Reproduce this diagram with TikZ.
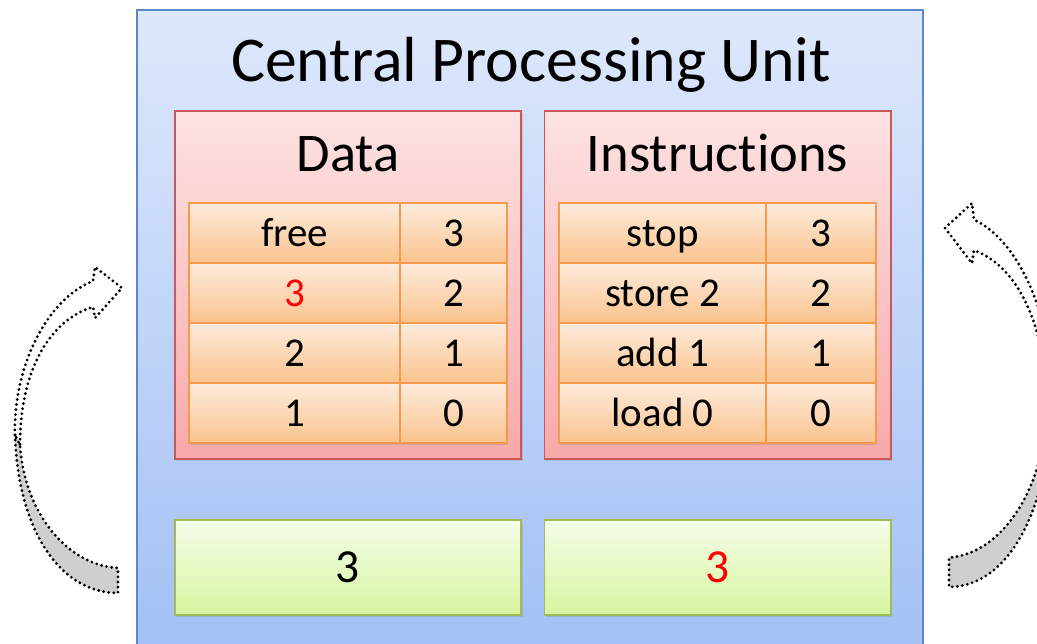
\documentclass[tikz,border=0pt]{standalone}
\usepackage{fontspec}
\setmainfont{Carlito}[Ligatures={NoCommon}]
\usetikzlibrary{shadows}
\definecolor{cpuedge}{HTML}{5A87C8}
\definecolor{cputop}{HTML}{DEE8FC}
\definecolor{cpubot}{HTML}{A2BFF4}
\definecolor{memedge}{HTML}{C9585A}
\definecolor{memtop}{HTML}{FDE2E2}
\definecolor{membot}{HTML}{F8A9A9}
\definecolor{celledge}{HTML}{F39A4C}
\definecolor{celltop}{HTML}{FDEBDC}
\definecolor{cellbot}{HTML}{FBC38E}
\definecolor{regedge}{HTML}{9DBD5A}
\definecolor{regtop}{HTML}{F5FDE9}
\definecolor{regbot}{HTML}{D7F5A0}
\definecolor{arrowgray}{HTML}{CFCFCF}
\definecolor{hot}{HTML}{FF0000}
\begin{document}
\begin{tikzpicture}[x=0.02cm,y=-0.02cm,
  cpubox/.style={draw=cpuedge, line width=0.9pt, top color=cputop, bottom color=cpubot,
    minimum width=15.72cm, minimum height=13cm, inner sep=0pt},
  membox/.style={draw=memedge, line width=0.9pt, top color=memtop, bottom color=membot,
    minimum width=6.93cm, minimum height=6.96cm, inner sep=0pt,
    drop shadow={opacity=0.25, shadow xshift=0.8pt, shadow yshift=-1.2pt}},
  cell/.style={draw=celledge, line width=0.9pt, top color=celltop, bottom color=cellbot,
    minimum height=1.2cm, inner sep=0pt, font=\fontsize{23.3}{28}\selectfont,
    text height=15.6pt, text depth=0.5pt,
    drop shadow={opacity=0.25, shadow xshift=0.6pt, shadow yshift=-1.2pt}},
  regbox/.style={draw=regedge, line width=0.9pt, top color=regtop, bottom color=regbot,
    minimum width=6.93cm, minimum height=1.9cm, inner sep=0pt, font=\fontsize{27}{32}\selectfont,
    drop shadow={opacity=0.25, shadow xshift=0.8pt, shadow yshift=-1.2pt}},
  heading/.style={font=\fontsize{31}{36}\selectfont, inner sep=0pt, anchor=base},
  arrowline/.style={line width=1.8pt, dash pattern=on 0pt off 2.9pt, line cap=round}
]
\useasboundingbox (0,0) rectangle (1037,644);
\clip (0,0) rectangle (1037,644);

% CPU
\node[cpubox] (cpu) at (530,335) {};
\node[font=\fontsize{36.3}{42}\selectfont, inner sep=0pt, anchor=base] (title) at (531,82) {Central Processing Unit};

% memory boxes
\node[membox] (data) at (348,285) {};
\node[membox] (instr) at (717.5,285) {};
\node[heading] (datalbl) at (348,172) {Data};
\node[heading] (instrlbl) at (717.5,172) {Instructions};

% data cells
\node[cell, minimum width=4.22cm] (d3) at (294.5,233) {free};
\node[cell, minimum width=2.14cm] (a3) at (453.5,233) {3};
\node[cell, minimum width=4.22cm] (d2) at (294.5,293) {\textcolor{hot}{3}};
\node[cell, minimum width=2.14cm] (a2) at (453.5,293) {2};
\node[cell, minimum width=4.22cm] (d1) at (294.5,353) {2};
\node[cell, minimum width=2.14cm] (a1) at (453.5,353) {1};
\node[cell, minimum width=4.22cm] (d0) at (294.5,413) {1};
\node[cell, minimum width=2.14cm] (a0) at (453.5,413) {0};

% instruction cells
\node[cell, minimum width=4.14cm] (i3) at (662.5,233) {stop};
\node[cell, minimum width=2.2cm] (b3) at (821,233) {3};
\node[cell, minimum width=4.14cm] (i2) at (662.5,293) {store 2};
\node[cell, minimum width=2.2cm] (b2) at (821,293) {2};
\node[cell, minimum width=4.14cm] (i1) at (662.5,353) {add 1};
\node[cell, minimum width=2.2cm] (b1) at (821,353) {1};
\node[cell, minimum width=4.14cm] (i0) at (662.5,413) {load 0};
\node[cell, minimum width=2.2cm] (b0) at (821,413) {0};

% registers
\node[regbox] (acc) at (348,567.5) {3};
\node[regbox] (pc) at (717.5,567.5) {\textcolor{hot}{3}};

% left curved arrow
\filldraw[arrowline, fill=arrowgray] (15,435) .. controls (18,530) and (60,593) .. (118,593)
  -- (118,568) .. controls (65,565) and (24,510) .. (20,445) -- cycle;
\draw[arrowline] (15,435) .. controls (13,370) and (45,300) .. (93,281) -- (95,267)
  -- (122,288) -- (95,318) -- (93,307) .. controls (50,320) and (20,370) .. (20,445);

% right curved arrow (mirrored)
\begin{scope}[shift={(1067,-111)}, xscale=-1, yscale=1.177]
\filldraw[arrowline, fill=arrowgray] (15,435) .. controls (18,530) and (60,593) .. (118,593)
  -- (118,568) .. controls (65,565) and (24,510) .. (20,445) -- cycle;
\draw[arrowline] (15,435) .. controls (13,370) and (45,300) .. (93,281) -- (95,267)
  -- (122,288) -- (95,318) -- (93,307) .. controls (50,320) and (20,370) .. (20,445);
\end{scope}
\end{tikzpicture}
\end{document}
